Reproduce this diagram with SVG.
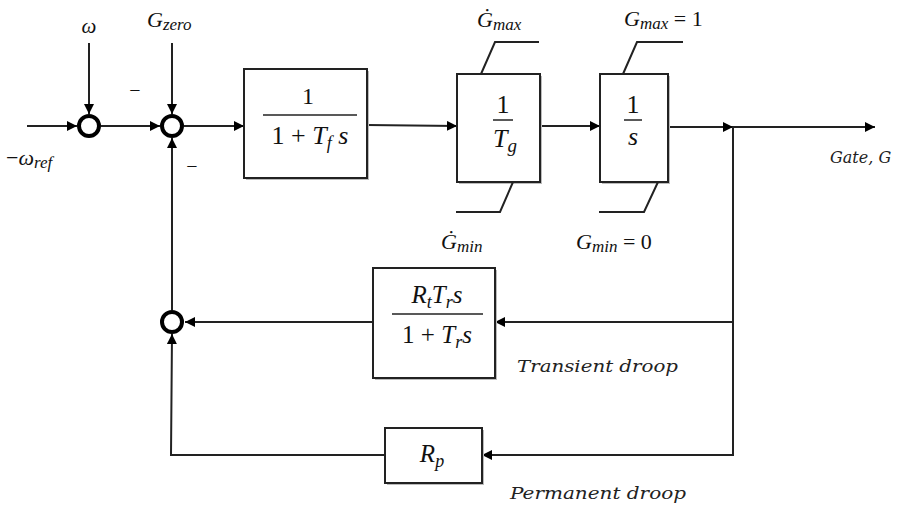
<svg xmlns="http://www.w3.org/2000/svg" width="902" height="513" viewBox="0 0 902 513">
<style>
.ln{fill:none;stroke:#222;stroke-width:2}
.box{fill:#fff;stroke:#222;stroke-width:2}
.sh{fill:#bbb;stroke:none}
.sum{fill:#fff;stroke:#000;stroke-width:4}
.m{font-family:"Liberation Serif","DejaVu Serif",serif;font-style:italic;fill:#111}
.n{font-family:"Liberation Serif","DejaVu Serif",serif;font-style:normal;fill:#111}
.lbl{font-family:"DejaVu Serif","Liberation Serif",serif;font-style:italic;fill:#222;font-size:16px}
</style>
<defs>
<marker id="ar" viewBox="0 0 10 10" refX="10" refY="5" markerWidth="10" markerHeight="10" markerUnits="userSpaceOnUse" orient="auto">
<path d="M0,0 L10,5 L0,10 z" fill="#000"/>
</marker>
</defs>

<g id="connectors">
<line class="ln" x1="27" y1="126" x2="77" y2="126" marker-end="url(#ar)"/>
<line class="ln" x1="89" y1="43" x2="89" y2="114" marker-end="url(#ar)"/>
<line class="ln" x1="101" y1="126" x2="160" y2="126" marker-end="url(#ar)"/>
<line class="ln" x1="172" y1="43" x2="172" y2="114" marker-end="url(#ar)"/>
<line class="ln" x1="184" y1="126" x2="244" y2="126" marker-end="url(#ar)"/>
<line class="ln" x1="367" y1="125" x2="457" y2="126" marker-end="url(#ar)"/>
<line class="ln" x1="540" y1="126" x2="600" y2="126" marker-end="url(#ar)"/>
<line class="ln" x1="668" y1="127" x2="733" y2="127" marker-end="url(#ar)"/>
<line class="ln" x1="733" y1="127" x2="875" y2="127" marker-end="url(#ar)"/>
<polyline class="ln" points="733,127 733,455 482,455" marker-end="url(#ar)"/>
<line class="ln" x1="733" y1="322" x2="495" y2="322" marker-end="url(#ar)"/>
<line class="ln" x1="373" y1="322" x2="185" y2="322" marker-end="url(#ar)"/>
<line class="ln" x1="172" y1="310" x2="172" y2="138" marker-end="url(#ar)"/>
<polyline class="ln" points="385,455 171,455 172,334" marker-end="url(#ar)"/>
</g>

<g id="sum1">
<circle class="sum" cx="89" cy="126" r="10"/>
<text class="m" x="89" y="33" font-size="21" text-anchor="middle">ω</text>
<text class="n" x="6" y="165" font-size="22">−<tspan class="m">ω</tspan><tspan class="m" font-size="17" dy="3">ref</tspan></text>
<text class="n" x="135" y="97" font-size="20" text-anchor="middle">−</text>
</g>

<g id="sum2">
<circle class="sum" cx="172" cy="126" r="10"/>
<text class="m" x="147" y="27" font-size="22">G<tspan font-size="17" dy="3">zero</tspan></text>
<text class="n" x="192" y="173" font-size="20" text-anchor="middle">−</text>
</g>

<g id="sum3">
<circle class="sum" cx="172" cy="322" r="10"/>
</g>

<g id="filter">
<rect class="sh" x="246" y="71" width="123" height="109"/>
<rect class="box" x="244" y="69" width="123" height="109"/>
<text class="n" x="308" y="104" font-size="24" text-anchor="middle">1</text>
<line x1="263" y1="115" x2="357" y2="115" stroke="#222" stroke-width="1.5"/>
<text class="n" x="310" y="144" font-size="26" text-anchor="middle">1 + <tspan class="m">T</tspan><tspan class="m" font-size="18" dy="5">f</tspan><tspan class="m" dy="-5"> s</tspan></text>
</g>

<g id="rate">
<rect class="sh" x="459" y="76" width="83" height="108"/>
<rect class="box" x="457" y="74" width="83" height="108"/>
<text class="n" x="503" y="113" font-size="26" text-anchor="middle">1</text>
<line x1="493" y1="120" x2="513" y2="120" stroke="#222" stroke-width="1.5"/>
<text class="m" x="505" y="147" font-size="26" text-anchor="middle">T<tspan font-size="19" dy="5">g</tspan></text>
<polyline class="ln" points="481,74 495,42 539,42"/>
<polyline class="ln" points="513,182 500,212 456,212"/>
<text class="m" x="477" y="27" font-size="22">Ġ<tspan font-size="17" dy="3">max</tspan></text>
<text class="m" x="441" y="249" font-size="22">Ġ<tspan font-size="17" dy="3">min</tspan></text>
</g>

<g id="integrator">
<rect class="sh" x="602" y="76" width="68" height="108"/>
<rect class="box" x="600" y="74" width="68" height="108"/>
<text class="n" x="633" y="113" font-size="26" text-anchor="middle">1</text>
<line x1="624" y1="120" x2="642" y2="120" stroke="#222" stroke-width="1.5"/>
<text class="m" x="633" y="145" font-size="26" text-anchor="middle">s</text>
<polyline class="ln" points="623,74 637,42 683,42"/>
<polyline class="ln" points="658,182 644,212 599,212"/>
<text class="m" x="624" y="26" font-size="22">G<tspan font-size="17" dy="3">max</tspan><tspan class="n" font-size="22" dy="-3"> = 1</tspan></text>
<text class="m" x="576" y="249" font-size="22">G<tspan font-size="17" dy="3">min</tspan><tspan class="n" font-size="22" dy="-3"> = 0</tspan></text>
</g>

<g id="output-label">
<text class="lbl" x="830" y="163">Gate, G</text>
</g>

<g id="transient">
<rect class="sh" x="375" y="270" width="122" height="110"/>
<rect class="box" x="373" y="268" width="122" height="110"/>
<text class="m" x="437" y="303" font-size="25" text-anchor="middle">R<tspan font-size="18" dy="5">t</tspan><tspan dy="-5">T</tspan><tspan font-size="18" dy="5">r</tspan><tspan dy="-5">s</tspan></text>
<line x1="392" y1="314" x2="483" y2="314" stroke="#222" stroke-width="1.5"/>
<text class="n" x="437" y="343" font-size="25" text-anchor="middle">1 + <tspan class="m">T</tspan><tspan class="m" font-size="18" dy="5">r</tspan><tspan class="m" dy="-5">s</tspan></text>
<text class="lbl" x="517" y="372" textLength="161" lengthAdjust="spacingAndGlyphs">Transient droop</text>
</g>

<g id="permanent">
<rect class="sh" x="387" y="430" width="97" height="55"/>
<rect class="box" x="385" y="428" width="97" height="55"/>
<text class="m" x="432" y="462" font-size="25" text-anchor="middle">R<tspan font-size="18" dy="5">p</tspan></text>
<text class="lbl" x="510" y="499" textLength="176" lengthAdjust="spacingAndGlyphs">Permanent droop</text>
</g>
</svg>
